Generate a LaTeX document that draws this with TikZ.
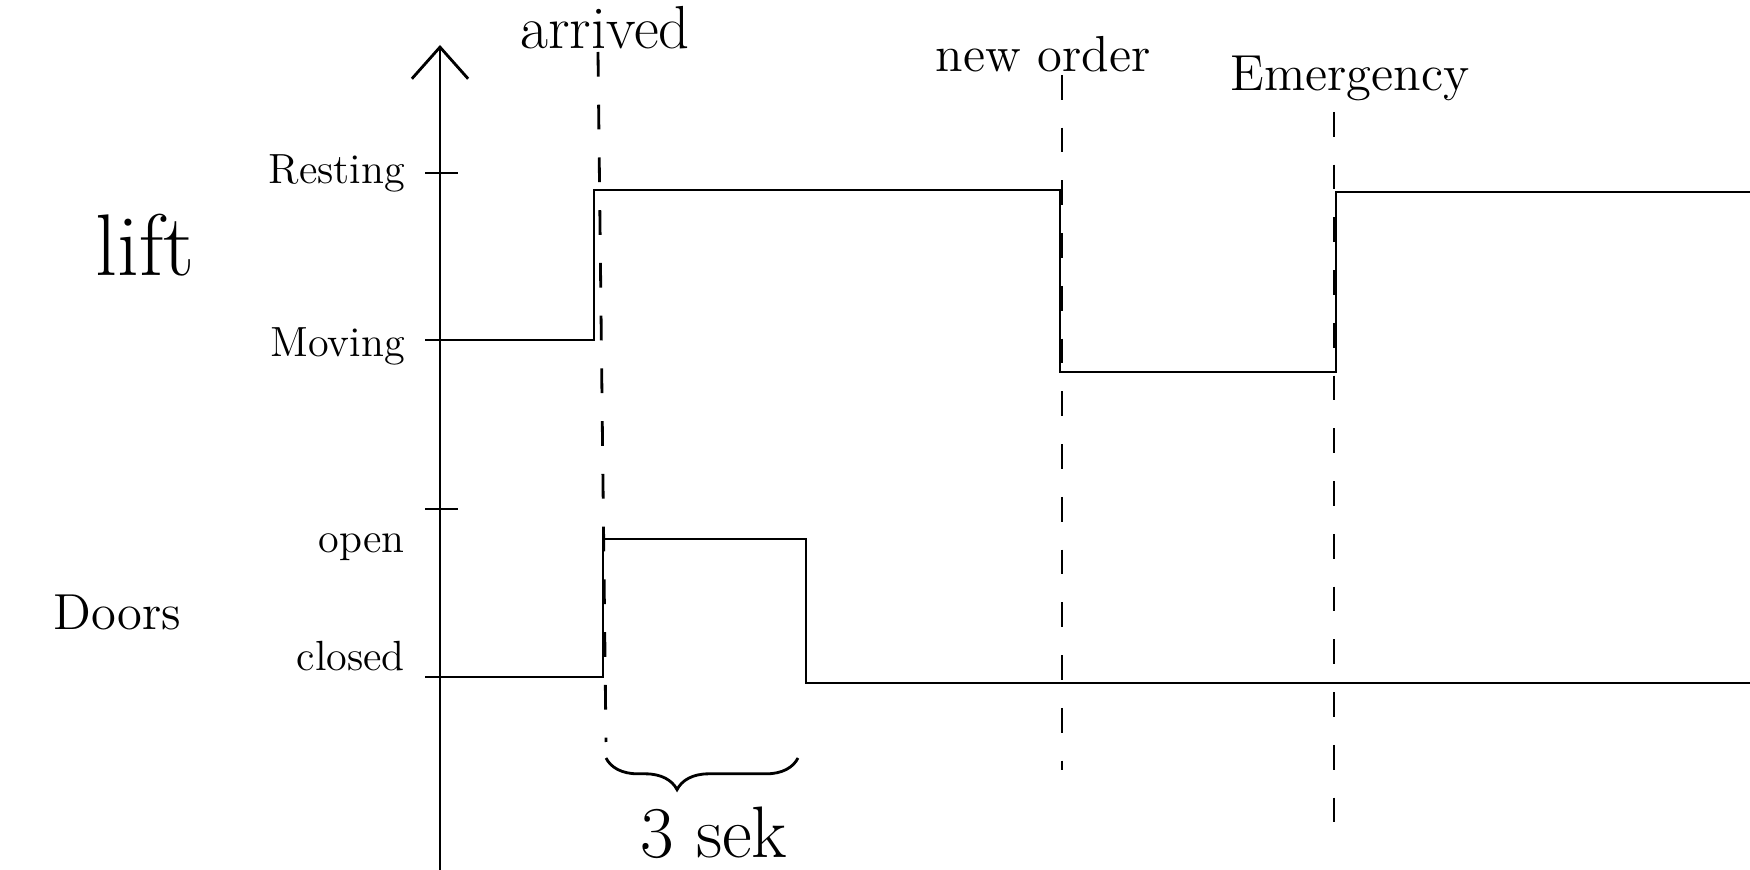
\documentclass[tikz,border=0pt]{standalone}
\usetikzlibrary{arrows.meta,decorations.pathreplacing}
\begin{document}
\begin{tikzpicture}[x=0.01cm, y=-0.01cm, thick,
    >={Straight Barb[length=9pt,width=16pt]},
    eventline/.style={dash pattern=on 7pt off 8pt},
    lvl/.style={anchor=east, font=\large}]
    \useasboundingbox (0,0) rectangle (1750,870);
    % Axis
    \coordinate (origin) at (440,870);
    \coordinate (axistop) at (440,45);
    \draw[->] (origin) -- (axistop);
    % Ticks and levels
    \foreach \ty/\ly/\lab/\nm in {173/173/Resting/rest, 340/346/Moving/move, 509/547/open/open, 677/656/closed/closed} {
        \draw (425,\ty) -- (458,\ty);
        \node[lvl] (\nm) at (418,\ly) {\lab};
    }
    \node[font=\Huge] (lift) at (145,245) {lift};
    \node[font=\Large] (doors) at (117,612) {Doors};
    % Events
    \node[font=\LARGE] (arrived) at (605,28) {arrived};
    \node[font=\Large] (neworder) at (1043,54) {new order};
    \node[font=\Large] (emergency) at (1350,78) {Emergency};
    \coordinate (arrivedtop) at (598,52);
    \coordinate (arrivedend) at (606,742);
    \coordinate (ordertop) at (1062,75);
    \coordinate (orderend) at (1062,770);
    \coordinate (emergtop) at (1334,112);
    \coordinate (emergend) at (1334,832);
    \draw[eventline] (arrivedtop) -- (arrivedend);
    \draw[eventline] (ordertop) -- (orderend);
    \draw[eventline] (emergtop) -- (emergend);
    % Lift state
    \draw (440,340) -- (594,340) -- (594,190) -- (1060,190) -- (1060,372)
        -- (1336,372) -- (1336,192) -- (1750,192);
    % Door state
    \draw (440,677) -- (603,677) -- (603,539) -- (806,539) -- (806,683) -- (1750,683);
    % Door open time
    \coordinate (openstart) at (606,758);
    \coordinate (openend) at (798,758);
    \draw[decorate, decoration={brace, mirror, amplitude=9pt, aspect=0.37}] (openstart) -- (openend);
    \node[font=\huge] (dur) at (714,833) {3 sek};
\end{tikzpicture}
\end{document}
